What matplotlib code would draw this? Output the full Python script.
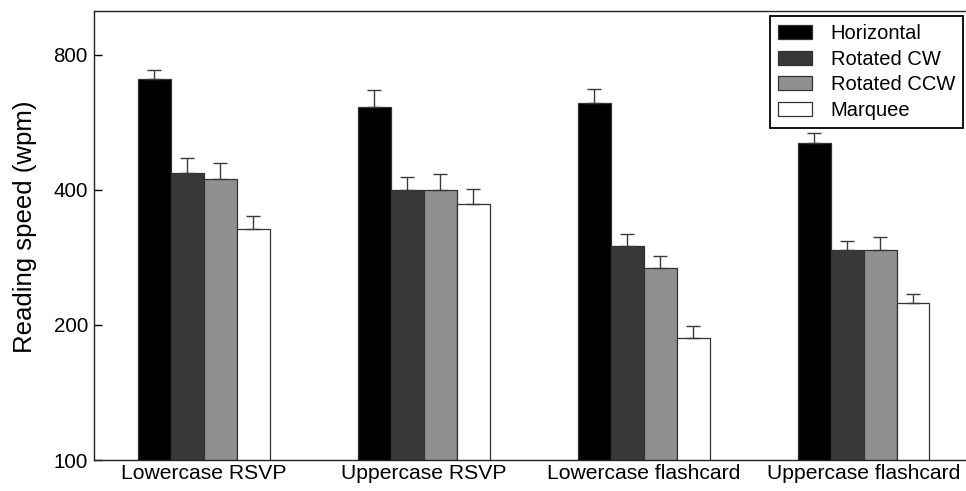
import numpy as np
import matplotlib
matplotlib.use("Agg")
import matplotlib.pyplot as plt
from matplotlib.ticker import FixedLocator, NullLocator

plt.rcParams['font.family'] = ['Liberation Sans', 'DejaVu Sans']

categories = ["Lowercase RSVP", "Uppercase RSVP", "Lowercase flashcard", "Uppercase flashcard"]
series = ["Horizontal", "Rotated CW", "Rotated CCW", "Marquee"]

# mean reading speed (wpm) and top of the error bar
horizontal = [706, 612, 623, 507]
horizontal_top = [739, 666, 672, 534]
rotated_cw = [436, 400, 300, 293]
rotated_cw_top = [471, 426, 318, 307]
rotated_ccw = [423, 399, 267, 293]
rotated_ccw_top = [459, 434, 284, 314]
marquee = [327, 372, 187, 224]
marquee_top = [349, 402, 199, 234]

yticks = [100, 200, 400, 800]

means = [horizontal, rotated_cw, rotated_ccw, marquee]
tops = [horizontal_top, rotated_cw_top, rotated_ccw_top, marquee_top]
colors = ["#000000", "#383838", "#909090", "#ffffff"]

fig = plt.figure(figsize=(9.66, 4.91), dpi=100)
ax = fig.add_axes([93.5 / 966, 1 - 460 / 491, 880 / 966, 449 / 491])

x = np.arange(1, len(categories) + 1)
width = 0.15
offsets = [-1.5 * width, -0.5 * width, 0.5 * width, 1.5 * width]

for vals, top, col, off, name in zip(means, tops, colors, offsets, series):
    vals = np.array(vals)
    top = np.array(top)
    ax.bar(x + off, vals, width, bottom=0.001, color=col, edgecolor="#333333",
           linewidth=0.9, label=name, zorder=2)
    ax.errorbar(x + off, vals, yerr=[np.zeros_like(vals), top - vals], fmt="none",
                ecolor="#3a3a3a", elinewidth=1, capsize=4.7, capthick=1, zorder=3)

ax.set_yscale("log")
ax.set_ylim(100, 1000)
ax.set_xlim(0.5, 4.5)
ax.yaxis.set_major_locator(FixedLocator(yticks))
ax.yaxis.set_minor_locator(NullLocator())
ax.set_yticklabels([str(t) for t in yticks])
ax.set_xticks(x)
ax.set_xticklabels(categories)

ax.tick_params(axis="y", direction="in", length=6, width=1, left=True, right=True,
               labelsize=14.8, pad=4)
ax.tick_params(axis="x", length=0, labelsize=15.2, pad=3)

ax.set_ylabel("Reading speed (wpm)", fontsize=18.5)
ax.yaxis.set_label_coords(-0.064, 0.52)

for sp in ax.spines.values():
    sp.set_linewidth(1)
    sp.set_color("#222222")

leg = ax.legend(loc="upper right", bbox_to_anchor=(963 / 966, 1 - 16 / 491),
                bbox_transform=fig.transFigure, borderaxespad=0, fontsize=14.5,
                fancybox=False, framealpha=1, edgecolor="black",
                handlelength=1.7, handleheight=0.7, handletextpad=0.9,
                labelspacing=0.33, borderpad=0.4)
leg.get_frame().set_linewidth(1.3)

fig.savefig("out.png", dpi=100)
